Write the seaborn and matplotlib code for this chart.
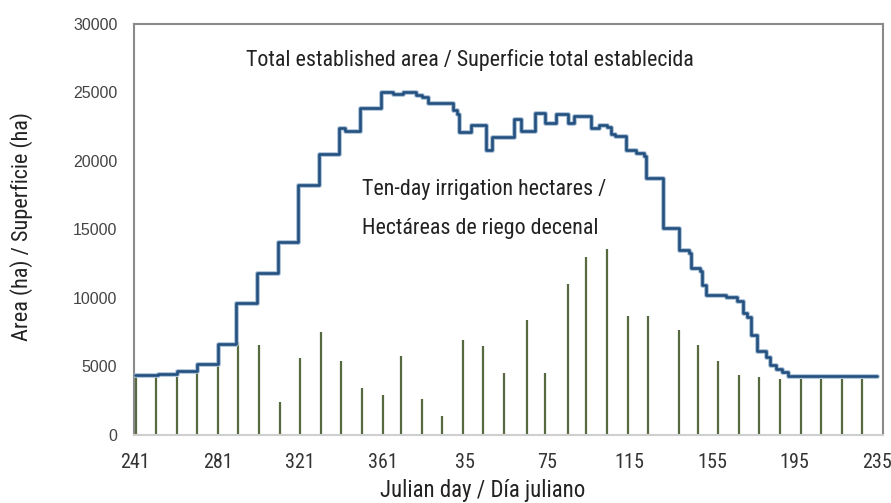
import numpy as np
import pandas as pd
import matplotlib
matplotlib.use('Agg')
import matplotlib.pyplot as plt
import matplotlib.patheffects as pe
import seaborn as sns

# total established area (ha), step series: day where the value starts
area_day = [241, 252, 261, 271, 281, 290, 300, 310, 320, 330, 340, 343, 350, 360,
            366, 371, 377, 380, 383, 395, 397, 398, 404, 411, 414, 425, 428, 435,
            440, 445, 451, 454, 462, 466, 470, 472, 474, 479, 484, 488, 489, 497,
            505, 510, 511, 515, 516, 518, 528, 533, 536, 538, 540, 543, 547, 549,
            552, 555, 558, 601]
area_ha = [4380, 4450, 4650, 5150, 6650, 9600, 11850, 14100, 18250, 20500, 22400, 22200, 23850, 25050,
           24900, 25000, 24850, 24700, 24250, 23700, 23450, 22150, 22600, 20800, 21750, 23050, 22200, 23500,
           22800, 23450, 22800, 23250, 22400, 22650, 22450, 22000, 21800, 20800, 20550, 20400, 18750, 15100,
           13500, 13300, 12200, 12000, 10950, 10200, 10100, 9750, 8900, 8600, 7300, 6100, 5700, 5100,
           4850, 4600, 4300, 4300]

# ten-day irrigation hectares
dekad_day = [241.5, 251, 261, 271, 281, 291, 301, 311, 321, 331, 341, 351, 361, 370, 380, 390, 400, 410,
             420, 431, 440, 451, 460, 470, 480, 490, 505, 514, 524, 534, 544, 554, 564, 574, 584, 594]
dekad_ha = [4300, 4300, 4200, 4500, 5100, 6800, 6600, 2400, 5600, 7500, 5400, 3400, 2900, 5800, 2600, 1400, 6900, 6500,
            4500, 8400, 4500, 11000, 13000, 13600, 8700, 8700, 7700, 6600, 5400, 4400, 4200, 4100, 4100, 4100, 4100, 4100]

tick_pos = [241, 281, 321, 361, 401, 441, 481, 521, 561, 601]
tick_lab = ['241', '281', '321', '361', '35', '75', '115', '155', '195', '235']

sns.set_style('white')
narrow = ['Liberation Sans Narrow', 'Roboto Condensed', 'DejaVu Sans']
plt.rcParams['font.family'] = ['Liberation Sans', 'DejaVu Sans']

fig = plt.figure(figsize=(8.91, 5.03), dpi=100)
ax = fig.add_axes([0.1504, 0.1352, 0.8406, 0.8171])

bars = pd.DataFrame({'day': dekad_day, 'ha': dekad_ha})
ax.vlines(bars['day'], 0, bars['ha'], color='#56693f', linewidth=1.6, zorder=2)

area = pd.DataFrame({'day': area_day, 'ha': area_ha})
sns.lineplot(data=area, x='day', y='ha', ax=ax, drawstyle='steps-post',
             color='#23507f', linewidth=1.9, zorder=3,
             path_effects=[pe.Stroke(linewidth=3.4, foreground='#a9c0d6'), pe.Normal()])

ax.set_xlim(240.3, 604)
ax.set_ylim(0, 30000)
ax.set_yticks(range(0, 30001, 5000))
ax.set_yticklabels([str(v) for v in range(0, 30001, 5000)], color='#444444', fontsize=11.5)
ax.set_xticks(tick_pos)
ax.set_xticklabels(tick_lab, family=narrow, fontsize=14.5, color='#333333')
ax.tick_params(axis='x', pad=13, length=0)
ax.tick_params(axis='y', pad=12, length=0)

for s in ['left', 'top', 'right']:
    ax.spines[s].set_color('#8a8a8a')
    ax.spines[s].set_linewidth(1.5)
ax.spines['bottom'].set_color('#cfcfcf')
ax.spines['bottom'].set_linewidth(1.5)

ax.set_xlabel('Julian day / Día juliano', family=narrow, fontsize=16.5, color='#222222')
ax.set_ylabel('Area (ha) / Superficie (ha)', family=narrow, fontsize=16, color='#222222')
ax.xaxis.set_label_coords(0.465, -0.108)
ax.yaxis.set_label_coords(-0.135, 0.508)

ax.text(403.5, 27400, 'Total established area / Superficie total establecida',
        family=narrow, fontsize=15.8, ha='center', va='center', color='#222222')
ax.text(410.5, 17900, 'Ten-day irrigation hectares /',
        family=narrow, fontsize=15.8, ha='center', va='center', color='#222222')
ax.text(408.5, 15100, 'Hectáreas de riego decenal',
        family=narrow, fontsize=15.8, ha='center', va='center', color='#222222')

fig.savefig('out.png', dpi=100)
